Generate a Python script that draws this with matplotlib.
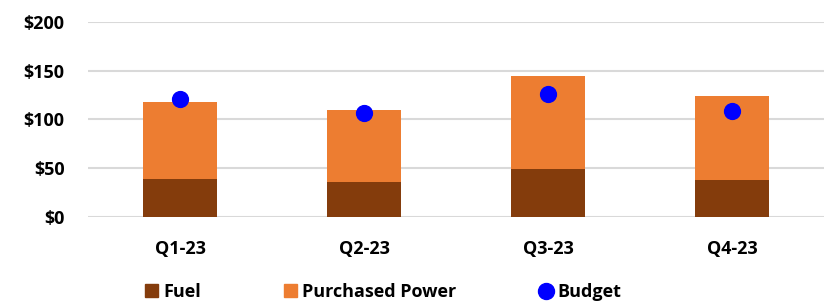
import numpy as np
import matplotlib.pyplot as plt
from matplotlib.ticker import FuncFormatter
from matplotlib.lines import Line2D
from matplotlib.patches import Patch

plt.rcParams['font.family'] = ['Open Sans', 'DejaVu Sans']
plt.rcParams['font.weight'] = 'bold'

# data
quarters = ['Q1-23', 'Q2-23', 'Q3-23', 'Q4-23']
fuel = [39, 36, 49, 38]
purchased = [79, 74, 96, 86]
budget = [121, 107, 126, 109]

c_fuel = '#843C0C'
c_pp = '#ED7D31'
c_bud = '#0000FF'

fig = plt.figure(figsize=(8.24, 3.02), dpi=100)
ax = fig.add_axes([88/824, 1-216.7/302, 1-88/824, 194.7/302])

x = np.arange(len(quarters))
ax.bar(x, fuel, width=0.4, color=c_fuel, zorder=2)
ax.bar(x, purchased, width=0.4, bottom=fuel, color=c_pp, zorder=2)
ax.scatter(x, budget, s=130, color=c_bud, zorder=3)

ax.set_xlim(-0.5, 3.5)
ax.set_ylim(0, 200)
ax.set_yticks([0, 50, 100, 150, 200])
ax.yaxis.set_major_formatter(FuncFormatter(lambda v, p: '$%d' % v))
ax.set_xticks(x)
ax.set_xticklabels(quarters)
ax.tick_params(axis='both', length=0, labelsize=13)
ax.tick_params(axis='y', pad=17)
ax.tick_params(axis='x', pad=17)
ax.grid(axis='y', color='#D9D9D9', linewidth=1.5, zorder=0)
for s in ax.spines.values():
    s.set_visible(False)

handles = [Patch(color=c_fuel, label='Fuel'),
           Patch(color=c_pp, label='Purchased Power'),
           Line2D([], [], marker='o', linestyle='none', markersize=11.5,
                  color=c_bud, label='Budget')]
fig.legend(handles=handles, loc='center', bbox_to_anchor=(0.465, 1-292/302),
           ncol=3, frameon=False, fontsize=13, columnspacing=4.6,
           handlelength=0.7, handleheight=0.7, handletextpad=0.3)

fig.savefig('out.png', dpi=100)
